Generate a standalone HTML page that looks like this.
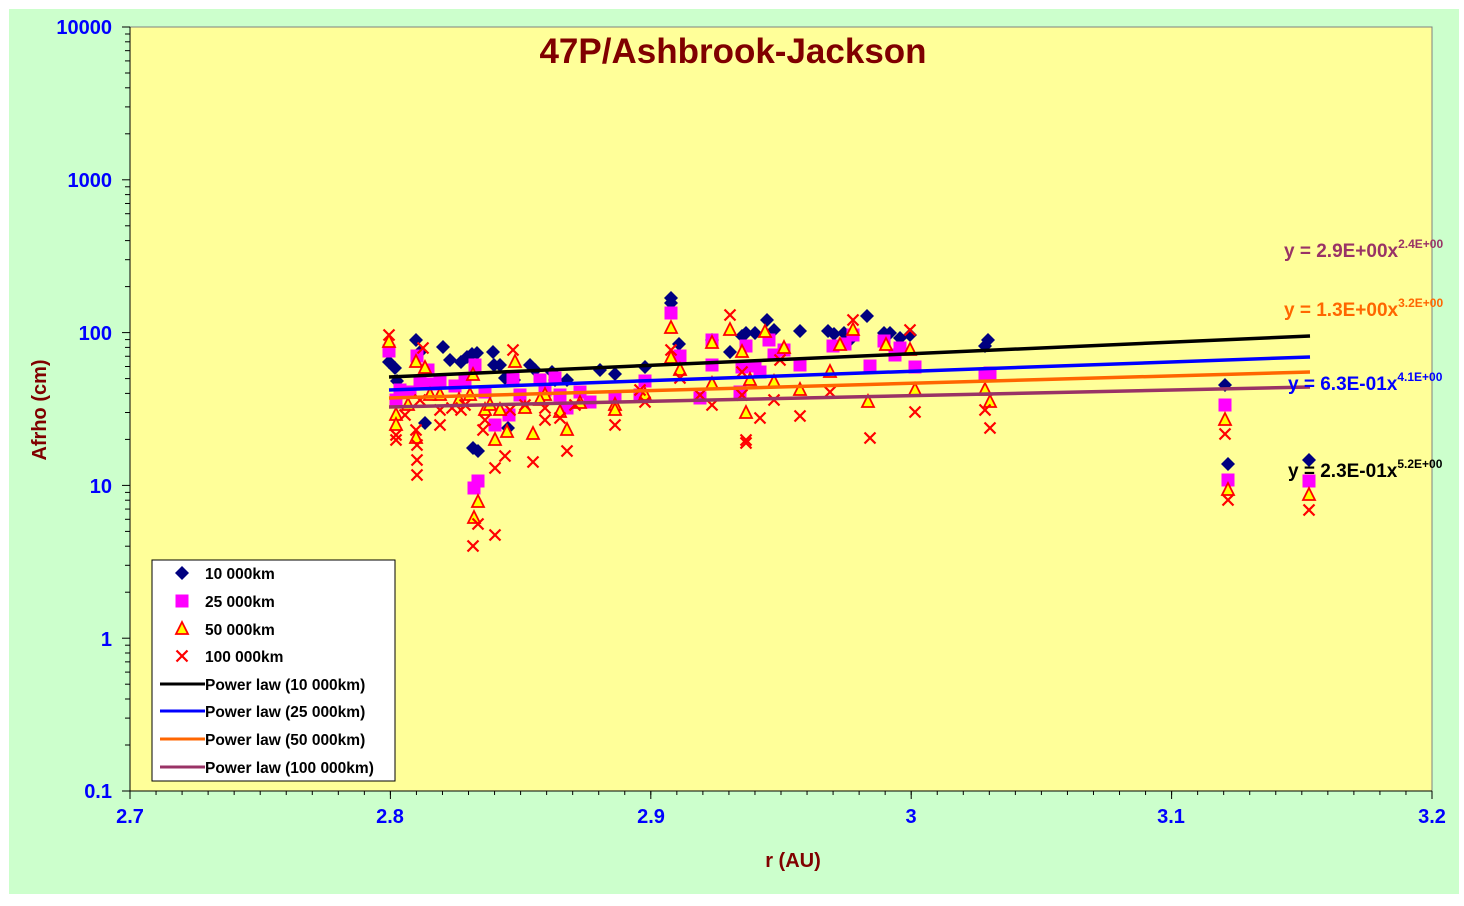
<!DOCTYPE html>
<html><head><meta charset="utf-8"><style>
body{margin:0;background:#fff;}
svg text{font-family:"Liberation Sans",Arial,sans-serif;font-weight:bold;}
</style></head><body>
<svg id="s" width="1464" height="901" xmlns="http://www.w3.org/2000/svg">
<rect x="9" y="9" width="1450" height="885" fill="#CCFFCC"/>
<rect x="130" y="27" width="1302" height="764" fill="#FFFF99" stroke="#808080" stroke-width="1"/>
<g id="ax" stroke="#000" stroke-width="1"></g>
<g id="pts"></g>
<g stroke-width="3.5" fill="none">
<line x1="389" y1="377" x2="1310" y2="336" stroke="#000"/>
<line x1="389" y1="390" x2="1310" y2="357" stroke="#0000FF"/>
<line x1="389" y1="398" x2="1310" y2="372" stroke="#FF6600"/>
<line x1="389" y1="407" x2="1310" y2="387" stroke="#993366"/>
</g>
<text x="733" y="63" font-size="35" fill="#800000" text-anchor="middle">47P/Ashbrook-Jackson</text>
<text x="793" y="867" font-size="20" fill="#800000" text-anchor="middle">r (AU)</text>
<text transform="translate(46,410) rotate(-90)" font-size="20" fill="#800000" text-anchor="middle">Afrho (cm)</text>
<g font-size="20" fill="#0000FF" text-anchor="end">
<text x="112" y="34">10000</text><text x="112" y="187">1000</text><text x="112" y="340">100</text>
<text x="112" y="493">10</text><text x="112" y="646">1</text><text x="112" y="798">0.1</text>
</g>
<g font-size="20" fill="#0000FF" text-anchor="middle">
<text x="130" y="823">2.7</text><text x="390" y="823">2.8</text><text x="651" y="823">2.9</text>
<text x="911" y="823">3</text><text x="1171" y="823">3.1</text><text x="1432" y="823">3.2</text>
</g>
<g font-size="19">
<text x="1284" y="257" fill="#993366">y = 2.9E+00x<tspan font-size="12" dy="-9">2.4E+00</tspan></text>
<text x="1284" y="316" fill="#FF6600">y = 1.3E+00x<tspan font-size="12" dy="-9">3.2E+00</tspan></text>
<text x="1288" y="390" fill="#0000FF">y = 6.3E-01x<tspan font-size="12" dy="-9">4.1E+00</tspan></text>
<text x="1288" y="477" fill="#000">y = 2.3E-01x<tspan font-size="12" dy="-9">5.2E+00</tspan></text>
</g>
<rect x="152" y="560" width="243" height="221" fill="#fff" stroke="#000"/>
<g id="leg"></g>
<g font-size="15.5" fill="#000">
<text x="205" y="579">10 000km</text><text x="205" y="607">25 000km</text>
<text x="205" y="635">50 000km</text><text x="205" y="662">100 000km</text>
<text x="205" y="690">Power law (10 000km)</text><text x="205" y="717">Power law (25 000km)</text>
<text x="205" y="745">Power law (50 000km)</text><text x="205" y="773">Power law (100 000km)</text>
</g>
<g stroke-width="3">
<line x1="160" y1="684" x2="205" y2="684" stroke="#000"/>
<line x1="160" y1="711" x2="205" y2="711" stroke="#0000FF"/>
<line x1="160" y1="739" x2="205" y2="739" stroke="#FF6600"/>
<line x1="160" y1="767" x2="205" y2="767" stroke="#993366"/>
</g>
</svg>
<script>
var NS="http://www.w3.org/2000/svg",ax=document.getElementById('ax'),pts=document.getElementById('pts'),leg=document.getElementById('leg');
function L(g,x1,y1,x2,y2,c,w){var e=document.createElementNS(NS,'line');e.setAttribute('x1',x1);e.setAttribute('y1',y1);e.setAttribute('x2',x2);e.setAttribute('y2',y2);if(c)e.setAttribute('stroke',c);if(w)e.setAttribute('stroke-width',w);g.appendChild(e);}
L(ax,130,27,130,791);L(ax,130,791,1432,791);
for(var d=0;d<5;d++){var y0=791-d*152.8;L(ax,122,y0,130,y0);for(var k=2;k<10;k++){var y=y0-Math.log10(k)*152.8;L(ax,125,y,130,y);}}
L(ax,122,27,130,27);
for(var i=0;i<=5;i++){var x=130+i*260.4;L(ax,x,791,x,799);}
for(var i=0;i<=50;i++){var x=130+i*26.04;L(ax,x,791,x,795);}
function dia(g,x,y){var p=document.createElementNS(NS,'polygon');p.setAttribute('points',(x)+','+(y-7)+' '+(x+7)+','+y+' '+x+','+(y+7)+' '+(x-7)+','+y);p.setAttribute('fill','#000080');g.appendChild(p);}
function sq(g,x,y){var r=document.createElementNS(NS,'rect');r.setAttribute('x',x-6.5);r.setAttribute('y',y-6.5);r.setAttribute('width',13);r.setAttribute('height',13);r.setAttribute('fill','#FF00FF');g.appendChild(r);}
function tri(g,x,y){var p=document.createElementNS(NS,'polygon');p.setAttribute('points',x+','+(y-7)+' '+(x+6)+','+(y+5)+' '+(x-6)+','+(y+5));p.setAttribute('fill','#FFFF00');p.setAttribute('stroke','#FF0000');p.setAttribute('stroke-width','1.8');g.appendChild(p);}
function cr(g,x,y){L(g,x-5.5,y-5.5,x+5.5,y+5.5,'#FF0000',2.2);L(g,x-5.5,y+5.5,x+5.5,y-5.5,'#FF0000',2.2);}
var D=[[389,362],[395,368],[397,381],[416,340],[443,347],[425,423],[461,362],[467,357],[472,354],[477,353],[473,448],[478,451],[493,352],[494,365],[500,365],[505,378],[508,428],[514,380],[535,370],[552,372],[555,380],[567,380],[615,374],[645,367],[671,298],[671,303],[679,344],[712,340],[730,352],[742,336],[746,333],[755,333],[767,320],[774,330],[800,331],[828,331],[834,334],[844,333],[850,340],[867,316],[884,333],[890,333],[900,338],[910,335],[985,346],[988,340],[1225,385],[1228,464],[1309,460],[420,352],[450,360],[530,365],[600,370]];
var S=[[389,351],[417,356],[396,400],[420,381],[428,370],[440,380],[474,488],[478,481],[475,365],[495,425],[509,415],[513,378],[540,380],[555,378],[567,408],[615,397],[645,381],[671,313],[680,356],[712,340],[712,365],[742,367],[746,346],[755,366],[769,340],[774,355],[784,350],[800,365],[833,346],[845,344],[853,335],[870,366],[884,341],[915,367],[985,375],[990,373],[1225,405],[1228,480],[1309,481],[400,390],[410,392],[432,384],[455,386],[465,380],[485,392],[520,395],[545,390],[560,395],[580,392],[590,402],[640,395],[700,398],[740,392],[760,372],[900,348],[895,355]];
var T=[[389,342],[396,415],[396,425],[416,362],[416,438],[425,368],[440,395],[459,400],[474,518],[478,502],[473,375],[485,410],[495,440],[500,410],[507,432],[515,362],[525,408],[533,434],[545,395],[560,412],[567,430],[615,405],[615,410],[645,395],[671,328],[671,358],[680,370],[712,343],[712,384],[730,330],[742,352],[746,413],[750,380],[765,332],[774,382],[784,348],[800,390],[830,372],[840,345],[853,330],[868,402],[886,345],[910,350],[915,390],[985,390],[990,402],[1225,420],[1228,490],[1309,495],[408,405],[430,395],[470,395],[490,405],[540,400],[580,403]];
var X=[[389,335],[396,435],[396,440],[416,430],[417,445],[417,460],[417,475],[423,348],[440,425],[452,408],[461,410],[473,546],[478,524],[483,430],[495,468],[495,535],[505,456],[513,350],[533,462],[545,420],[560,418],[567,451],[615,425],[645,402],[671,350],[680,378],[712,405],[730,315],[742,395],[746,440],[746,443],[760,418],[774,400],[800,416],[830,392],[853,320],[870,438],[910,330],[915,412],[985,410],[990,428],[1225,434],[1228,500],[1309,510],[405,415],[420,400],[440,410],[465,405],[485,420],[510,410],[525,405],[545,408],[575,405],[640,390],[700,395],[742,372],[780,360]];
D.forEach(function(p){dia(pts,p[0],p[1])});S.forEach(function(p){sq(pts,p[0],p[1])});T.forEach(function(p){tri(pts,p[0],p[1])});X.forEach(function(p){cr(pts,p[0],p[1])});
dia(leg,182,573);sq(leg,182,601);tri(leg,182,629);cr(leg,182,656);
</script>
</body></html>
